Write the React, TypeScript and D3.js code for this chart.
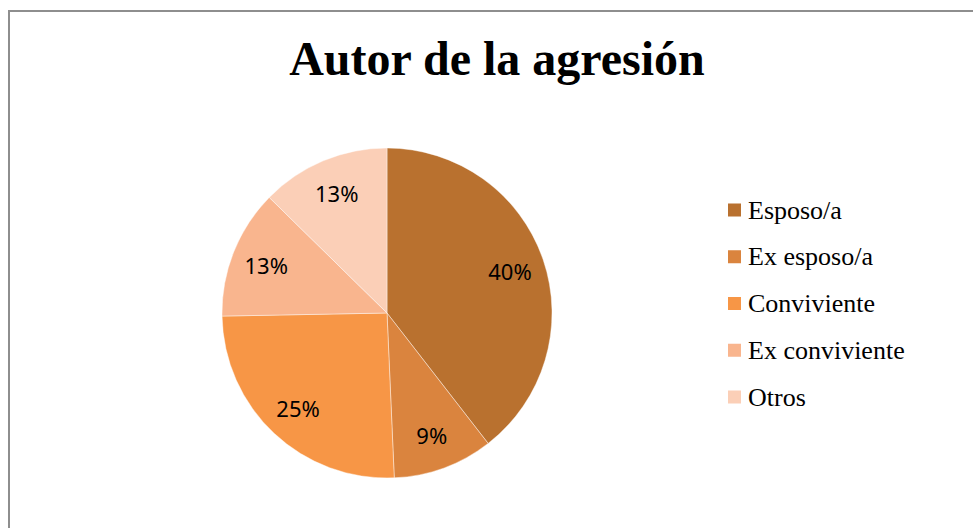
import React from 'react';
import * as d3 from 'd3';

const categories = ['Esposo/a', 'Ex esposo/a', 'Conviviente', 'Ex conviviente', 'Otros'];
// shares
const shares = [39.5, 9.8, 25.4, 12.65, 12.65];
const percentLabels = ['40%', '9%', '25%', '13%', '13%'];
const colors = ['#B9712F', '#DA843E', '#F79646', '#F9B58E', '#FBCFB7'];

const App = () => {
  const width = 973, height = 528;
  const cx = 387, cy = 313, r = 165;

  const pie = d3.pie<number>().sort(null).value(d => d);
  const arcs = pie(shares);
  const arc = d3.arc<d3.PieArcDatum<number>>().innerRadius(0).outerRadius(r);
  const labelArc = d3.arc<d3.PieArcDatum<number>>().innerRadius(130).outerRadius(130);

  const legendY = d3.scalePoint<string>().domain(categories).range([210, 397]);

  return (
    <svg width={width} height={height} style={{ position: 'absolute', left: 0, top: 0 }}>
      <rect x={9} y={11} width={1000} height={600} fill="#fff" stroke="#8E8E8E" strokeWidth={2} />
      <text x={497} y={75} textAnchor="middle" fontFamily="'Liberation Serif', 'Times New Roman', serif"
        fontWeight="bold" fontSize={48} fill="#000">Autor de la agresión</text>
      <g transform={'translate(' + cx + ',' + cy + ')'}>
        {arcs.map((a, i) => (
          <path key={i} d={arc(a) || ''} fill={colors[i]} stroke="#fff" strokeWidth={0.6} strokeOpacity={0.7} />
        ))}
        {arcs.map((a, i) => {
          const [lx, ly] = labelArc.centroid(a);
          return (
            <text key={i} x={lx} y={ly} textAnchor="middle" dominantBaseline="central"
              fontFamily="'Noto Sans', 'Open Sans', sans-serif" fontSize={22} fill="#000">{percentLabels[i]}</text>
          );
        })}
      </g>
      <g>
        {categories.map((c, i) => (
          <g key={c} transform={'translate(728,' + legendY(c) + ')'}>
            <rect x={0} y={-6.5} width={13} height={13} fill={colors[i]} />
            <text x={20} y={8.5} fontFamily="'Liberation Serif', 'Times New Roman', serif" fontSize={26} fill="#000">{c}</text>
          </g>
        ))}
      </g>
    </svg>
  );
};

export default App;
